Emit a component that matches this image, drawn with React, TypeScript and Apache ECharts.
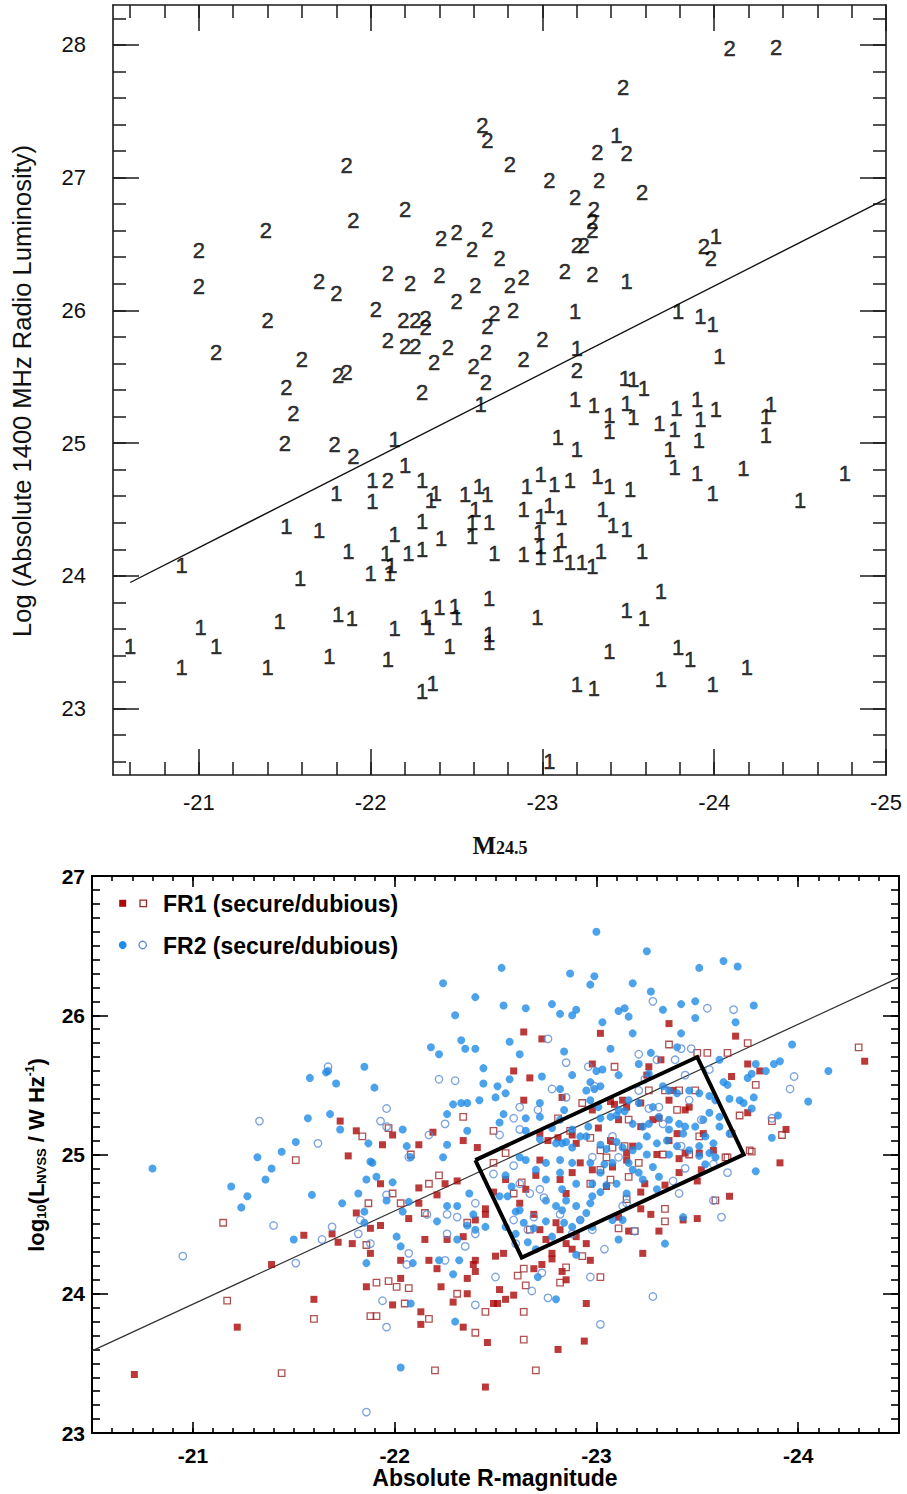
import { useEffect, useRef } from "react";
import * as echarts from "echarts";

const SANS = '"Liberation Sans", Arial, Helvetica, sans-serif';
const SERIF = '"Liberation Serif", "Times New Roman", serif';

// ---------- Upper panel: radio luminosity vs M24.5, plotted as "1" / "2" glyphs ----------
const topXMajor = [-21, -22, -23, -24, -25];
const topYMajor = [23, 24, 25, 26, 27, 28];

const fr1Glyphs: [number, number][] = [
  [-23.43, 27.32], [-23.49, 26.22], [-24.01, 26.56], [-23.19, 25.99], [-23.79, 25.99], [-23.92, 25.95],
  [-23.99, 25.89], [-24.03, 25.65], [-23.48, 25.49], [-23.53, 25.48], [-23.59, 25.41], [-23.2, 25.71],
  [-22.64, 25.29], [-22.14, 25.03], [-20.9, 24.08], [-22.2, 24.83], [-22.01, 24.72], [-22.01, 24.56],
  [-21.8, 24.62], [-22.3, 24.72], [-22.35, 24.57], [-22.38, 24.62], [-22.55, 24.61], [-22.63, 24.67],
  [-22.68, 24.61], [-21.51, 24.37], [-21.7, 24.34], [-22.14, 24.31], [-22.3, 24.41], [-22.41, 24.28],
  [-22.59, 24.4], [-22.59, 24.3], [-22.61, 24.5], [-22.69, 24.4], [-21.87, 24.18], [-22.09, 24.17],
  [-22.12, 24.08], [-22.22, 24.17], [-22.3, 24.2], [-22.0, 24.02], [-22.11, 24.02], [-21.59, 23.98],
  [-22.72, 24.17], [-21.01, 23.61], [-21.1, 23.47], [-20.6, 23.47], [-20.9, 23.31], [-21.4, 23.31],
  [-21.47, 23.66], [-21.81, 23.71], [-21.89, 23.68], [-21.76, 23.39], [-22.14, 23.6], [-22.1, 23.37],
  [-22.32, 23.69], [-22.34, 23.61], [-22.4, 23.76], [-22.49, 23.77], [-22.5, 23.69], [-22.46, 23.47],
  [-22.69, 23.83], [-22.69, 23.56], [-22.69, 23.5], [-22.3, 23.13], [-22.36, 23.19], [-23.19, 25.33],
  [-23.3, 25.28], [-23.39, 25.21], [-23.39, 25.09], [-23.49, 25.3], [-23.53, 25.19], [-23.68, 25.15],
  [-23.78, 25.26], [-23.77, 25.1], [-23.9, 25.33], [-23.92, 25.18], [-24.01, 25.25], [-24.33, 25.29],
  [-24.3, 25.2], [-24.3, 25.06], [-23.09, 25.04], [-23.2, 24.95], [-23.74, 24.95], [-23.91, 25.02],
  [-23.77, 24.82], [-23.9, 24.77], [-24.17, 24.81], [-24.76, 24.77], [-23.99, 24.62], [-24.5, 24.57],
  [-22.91, 24.67], [-22.99, 24.76], [-23.07, 24.69], [-23.16, 24.72], [-23.32, 24.75], [-23.39, 24.67],
  [-23.51, 24.65], [-22.89, 24.5], [-22.99, 24.45], [-23.04, 24.53], [-23.11, 24.44], [-23.35, 24.5],
  [-23.41, 24.38], [-23.49, 24.35], [-22.98, 24.33], [-22.99, 24.22], [-23.11, 24.27], [-22.89, 24.16],
  [-22.99, 24.14], [-23.09, 24.16], [-23.16, 24.1], [-23.23, 24.1], [-23.29, 24.07], [-23.34, 24.18],
  [-23.58, 24.18], [-23.69, 23.88], [-23.49, 23.74], [-23.59, 23.68], [-22.97, 23.69], [-23.39, 23.43],
  [-23.79, 23.46], [-23.86, 23.37], [-24.19, 23.31], [-23.2, 23.18], [-23.3, 23.15], [-23.69, 23.22],
  [-23.99, 23.18], [-23.04, 22.6],
];

const fr2Glyphs: [number, number][] = [
  [-22.65, 27.39], [-22.68, 27.28], [-21.86, 27.09], [-22.2, 26.76], [-21.9, 26.68], [-21.39, 26.6],
  [-22.41, 26.54], [-22.5, 26.59], [-22.68, 26.61], [-22.59, 26.46], [-22.75, 26.39], [-21.0, 26.45],
  [-21.0, 26.18], [-21.7, 26.22], [-21.8, 26.13], [-22.1, 26.28], [-22.23, 26.2], [-22.4, 26.26],
  [-22.61, 26.19], [-22.5, 26.07], [-22.03, 26.01], [-21.4, 25.92], [-22.19, 25.92], [-22.26, 25.92],
  [-22.32, 25.94], [-22.32, 25.87], [-22.72, 25.98], [-22.68, 25.88], [-21.1, 25.68], [-21.6, 25.63],
  [-21.81, 25.51], [-21.86, 25.53], [-21.51, 25.42], [-22.1, 25.77], [-22.2, 25.73], [-22.26, 25.73],
  [-22.37, 25.61], [-22.45, 25.72], [-22.6, 25.58], [-22.67, 25.68], [-22.67, 25.46], [-22.3, 25.38],
  [-21.55, 25.22], [-21.5, 25.0], [-21.79, 24.99], [-21.9, 24.9], [-22.1, 24.72],
  [-23.47, 27.68], [-24.09, 27.97], [-24.36, 27.98], [-23.32, 27.19], [-23.49, 27.18], [-22.81, 27.1],
  [-23.04, 26.98], [-23.33, 26.98], [-23.58, 26.89], [-23.19, 26.85], [-23.3, 26.76], [-23.29, 26.67],
  [-23.29, 26.6], [-23.2, 26.49], [-23.24, 26.49], [-23.94, 26.48], [-23.98, 26.39], [-22.81, 26.19],
  [-22.89, 26.25], [-23.13, 26.29], [-23.29, 26.27], [-22.83, 26.0], [-23.0, 25.78], [-23.2, 25.55],
  [-22.89, 25.63],
];

const topFitLine: [number, number][] = [[-20.6, 23.95], [-25.0, 26.84]];

// ---------- Lower panel: NVSS luminosity vs absolute R magnitude ----------
const botXMajor = [-21, -22, -23, -24];
const botYMajor = [23, 24, 25, 26, 27];

const fr1Secure: [number, number][] = [
  [-21.73, 25.24], [-21.81, 25.17], [-21.77, 24.99], [-21.81, 24.58], [-21.55, 24.42], [-21.69, 24.43],
  [-21.72, 24.37], [-21.79, 24.36], [-21.39, 24.21], [-21.22, 23.76], [-21.6, 23.96], [-21.86, 24.05],
  [-20.71, 23.42], [-21.88, 24.47], [-21.88, 24.29], [-22.64, 25.88], [-22.73, 25.83], [-23.02, 25.87],
  [-22.59, 25.6], [-22.67, 25.55], [-22.64, 25.39], [-22.83, 25.41], [-22.98, 25.65], [-23.07, 25.38],
  [-23.09, 25.36], [-23.13, 25.39], [-21.99, 25.14], [-21.94, 25.07], [-22.12, 25.07], [-22.19, 25.16],
  [-22.34, 25.1], [-22.41, 25.05], [-22.72, 25.15], [-22.76, 25.1], [-22.81, 25.12], [-22.88, 25.14],
  [-22.9, 25.08], [-22.98, 25.32], [-23.01, 25.19], [-23.11, 25.25], [-23.07, 25.1], [-21.93, 24.79],
  [-22.12, 24.76], [-22.21, 24.71], [-22.25, 24.79], [-22.31, 24.81], [-22.12, 24.65], [-22.07, 24.54],
  [-22.15, 24.39], [-22.26, 24.39], [-22.34, 24.41], [-22.4, 24.53], [-22.45, 24.61], [-22.45, 24.57],
  [-22.49, 24.73], [-22.55, 24.82], [-22.65, 24.75], [-22.72, 24.96], [-22.7, 24.85], [-22.69, 24.57],
  [-22.62, 24.65], [-22.5, 24.27], [-22.54, 24.29], [-22.4, 24.24], [-22.39, 24.21], [-22.4, 24.16],
  [-22.36, 24.11], [-22.23, 24.05], [-22.17, 24.24], [-22.21, 24.18], [-22.03, 24.24], [-22.03, 24.11],
  [-21.99, 23.92], [-22.13, 23.87], [-22.13, 23.78], [-22.34, 23.76], [-22.36, 24.0], [-22.29, 23.94],
  [-22.52, 24.03], [-22.59, 23.99], [-22.55, 23.96], [-22.49, 23.93], [-22.51, 23.93], [-22.69, 24.18],
  [-22.73, 24.21], [-22.78, 24.29], [-22.78, 24.25], [-22.83, 24.16], [-22.85, 24.1], [-22.95, 23.93],
  [-22.81, 23.6], [-22.94, 23.66], [-22.46, 23.65], [-22.45, 23.33], [-22.82, 24.82], [-22.85, 24.72],
  [-22.88, 24.87], [-22.92, 24.94], [-22.98, 24.89], [-22.82, 24.46], [-22.9, 24.41], [-22.95, 24.36],
  [-22.97, 24.24], [-23.05, 24.77], [-23.08, 24.91], [-22.72, 24.46], [-22.8, 24.51], [-22.85, 24.36],
  [-22.88, 24.32], [-21.93, 24.49], [-22.75, 24.39], [-23.36, 25.94], [-23.69, 25.85], [-23.75, 25.65],
  [-23.67, 25.56], [-23.81, 25.6], [-23.75, 25.3], [-23.94, 25.18], [-24.33, 25.67], [-23.32, 25.68],
  [-23.26, 25.63], [-23.25, 25.57], [-23.22, 25.37], [-23.15, 25.34], [-23.38, 25.46], [-23.36, 25.39],
  [-23.46, 25.34], [-23.31, 25.26], [-23.28, 25.25], [-23.44, 25.32], [-23.36, 25.1], [-23.4, 25.15],
  [-23.53, 25.15], [-23.44, 25.01], [-23.51, 25.01], [-23.58, 25.03], [-23.22, 25.2], [-23.18, 25.06],
  [-23.15, 25.01], [-23.91, 24.94], [-23.66, 24.7], [-23.5, 24.54], [-23.43, 24.53], [-23.31, 24.45],
  [-23.23, 24.29], [-23.27, 24.57], [-23.22, 24.61], [-23.16, 24.45], [-23.52, 24.89], [-23.5, 24.81],
  [-23.41, 24.87], [-23.34, 24.78], [-23.22, 24.73], [-23.15, 24.96], [-23.41, 24.97], [-23.3, 25.0],
  [-23.11, 24.55], [-23.24, 24.79],
];

const fr1Dubious: [number, number][] = [
  [-21.84, 25.13], [-21.51, 24.96], [-21.15, 24.51], [-21.17, 23.95], [-21.6, 23.82], [-21.44, 23.43],
  [-21.87, 24.65], [-21.86, 24.35], [-21.88, 23.84], [-23.09, 25.63], [-22.93, 25.37], [-22.34, 25.27],
  [-22.49, 25.17], [-21.97, 25.19], [-22.08, 25.0], [-22.55, 25.01], [-22.81, 25.26], [-22.87, 25.17],
  [-22.97, 25.12], [-23.02, 25.03], [-23.08, 25.05], [-23.14, 25.06], [-22.22, 24.85], [-22.17, 24.79],
  [-21.99, 24.72], [-22.03, 24.65], [-22.15, 24.58], [-22.49, 24.94], [-22.63, 24.8], [-22.59, 24.72],
  [-21.91, 24.08], [-21.97, 24.09], [-22.01, 24.05], [-22.07, 24.04], [-22.05, 23.93], [-21.91, 23.84],
  [-22.17, 23.82], [-22.31, 24.0], [-22.4, 23.72], [-22.45, 23.87], [-22.64, 23.87], [-22.64, 23.67],
  [-22.2, 23.45], [-22.7, 23.45], [-22.64, 24.18], [-22.61, 24.13], [-22.65, 24.06], [-22.82, 24.08],
  [-22.85, 24.19], [-22.93, 24.27], [-23.02, 24.12], [-23.07, 24.82], [-22.97, 24.79], [-23.02, 24.89],
  [-23.05, 24.98], [-22.36, 24.51], [-22.67, 24.46], [-23.36, 25.79], [-23.55, 25.73], [-23.65, 25.73],
  [-23.75, 25.8], [-23.79, 25.5], [-23.71, 25.28], [-23.87, 25.24], [-23.92, 25.14], [-24.3, 25.77],
  [-23.5, 25.73], [-23.41, 25.46], [-23.26, 25.46], [-23.34, 25.46], [-23.49, 25.46], [-23.4, 25.32],
  [-23.51, 25.13], [-23.16, 25.25], [-23.67, 25.15], [-23.76, 25.03], [-23.64, 24.98], [-23.46, 25.0],
  [-23.34, 24.61], [-23.34, 24.52], [-23.59, 24.67], [-23.19, 24.45], [-23.77, 25.02], [-23.33, 25.0],
  [-23.65, 24.98], [-23.16, 24.84], [-23.21, 24.94], [-23.15, 24.68], [-23.11, 24.47],
];

const fr2Secure: [number, number][] = [
  [-21.58, 25.55], [-21.66, 25.59], [-21.67, 25.6], [-21.71, 25.51], [-21.85, 25.63], [-21.57, 25.26],
  [-21.68, 25.29], [-21.73, 25.18], [-21.51, 25.09], [-21.44, 25.02], [-21.32, 24.98], [-21.87, 25.08],
  [-20.8, 24.9], [-21.19, 24.77], [-21.24, 24.62], [-21.27, 24.7], [-21.39, 24.9], [-21.36, 24.82],
  [-21.59, 24.71], [-21.74, 24.65], [-21.82, 24.72], [-21.85, 24.59], [-21.86, 24.82], [-21.5, 24.39],
  [-21.86, 24.22], [-21.88, 24.95], [-23.0, 26.6], [-22.53, 26.34], [-22.87, 26.3], [-22.99, 26.28],
  [-22.97, 26.22], [-22.24, 26.23], [-22.4, 26.13], [-22.54, 26.07], [-22.65, 26.05], [-22.78, 26.08],
  [-22.82, 26.01], [-22.88, 26.0], [-22.9, 26.04], [-22.3, 26.0], [-23.11, 26.03], [-23.14, 26.05],
  [-23.03, 25.95], [-22.33, 25.82], [-22.18, 25.77], [-22.22, 25.72], [-22.35, 25.76], [-22.4, 25.76],
  [-22.57, 25.81], [-22.62, 25.72], [-23.07, 25.76], [-22.84, 25.74], [-22.44, 25.62], [-22.73, 25.56],
  [-22.88, 25.57], [-22.97, 25.52], [-23.0, 25.6], [-23.03, 25.61], [-23.11, 25.57], [-21.9, 25.48],
  [-22.44, 25.51], [-22.51, 25.49], [-22.57, 25.54], [-22.82, 25.47], [-22.95, 25.46], [-22.99, 25.47],
  [-23.02, 25.49], [-22.5, 25.41], [-22.55, 25.44], [-22.42, 25.39], [-22.36, 25.37], [-22.33, 25.37],
  [-22.29, 25.36], [-22.26, 25.29], [-22.72, 25.37], [-22.72, 25.27], [-22.65, 25.26], [-22.84, 25.32],
  [-22.97, 25.39], [-23.01, 25.34], [-23.07, 25.27], [-23.1, 25.28], [-23.14, 25.31], [-22.54, 25.29],
  [-22.52, 25.23], [-22.82, 25.25], [-22.78, 25.19], [-22.04, 25.18], [-22.36, 25.17], [-22.26, 25.07],
  [-22.06, 25.06], [-22.72, 25.11], [-22.65, 25.17], [-22.88, 25.18], [-22.92, 25.13], [-22.96, 25.2],
  [-22.95, 25.13], [-23.02, 25.26], [-23.11, 25.32], [-22.8, 25.08], [-22.83, 25.08], [-22.85, 25.09],
  [-22.88, 25.05], [-23.02, 25.07], [-23.05, 25.04], [-23.1, 25.09], [-23.13, 25.05], [-21.89, 24.94],
  [-22.08, 24.98], [-22.24, 24.98], [-21.91, 24.84], [-21.99, 24.8], [-21.96, 24.67], [-22.07, 24.66],
  [-22.04, 24.59], [-22.21, 24.52], [-22.26, 24.63], [-22.31, 24.63], [-22.37, 24.72], [-22.39, 24.57],
  [-22.4, 24.46], [-22.45, 24.48], [-22.36, 24.49], [-22.01, 24.41], [-22.03, 24.34], [-22.31, 24.39],
  [-22.09, 24.22], [-22.22, 24.24], [-22.32, 24.24], [-22.29, 24.14], [-22.08, 23.93], [-22.3, 23.8],
  [-22.03, 23.47], [-22.55, 24.48], [-22.56, 24.7], [-22.6, 24.43], [-22.71, 24.12], [-22.8, 23.96],
  [-22.55, 24.85], [-22.58, 24.77], [-22.6, 24.59], [-22.64, 24.51], [-22.66, 24.37], [-22.75, 24.94],
  [-22.82, 24.87], [-22.83, 24.75], [-22.9, 24.79], [-22.88, 24.94], [-22.97, 24.94], [-23.04, 24.93],
  [-23.08, 24.94], [-22.98, 24.7], [-22.9, 24.63], [-22.97, 24.65], [-23.02, 24.73], [-23.05, 24.78],
  [-22.8, 24.63], [-22.75, 24.67], [-22.83, 24.6], [-22.84, 24.51], [-22.88, 24.48], [-22.92, 24.53],
  [-22.75, 24.52], [-22.69, 24.47], [-22.78, 24.41], [-22.7, 24.32], [-22.62, 24.6], [-22.65, 24.96],
  [-22.62, 24.98], [-22.52, 24.7], [-22.9, 24.28], [-22.98, 24.48], [-23.08, 24.53], [-23.13, 24.53],
  [-23.15, 24.72], [-23.11, 24.39], [-21.85, 24.51], [-23.1, 24.79], [-22.82, 24.96], [-22.7, 24.89],
  [-22.75, 24.82], [-22.85, 24.67], [-22.95, 24.58], [-22.98, 24.79], [-23.02, 24.87], [-23.25, 26.46],
  [-23.51, 26.34], [-23.63, 26.39], [-23.7, 26.35], [-23.18, 26.23], [-23.27, 26.17], [-23.33, 26.04],
  [-23.42, 26.08], [-23.49, 26.1], [-23.49, 25.98], [-23.69, 25.95], [-23.78, 26.07], [-23.18, 25.87],
  [-23.42, 25.87], [-23.97, 25.79], [-24.15, 25.6], [-24.05, 25.38], [-23.27, 25.73], [-23.4, 25.77],
  [-23.61, 25.68], [-23.21, 25.65], [-23.26, 25.58], [-23.79, 25.65], [-23.91, 25.67], [-23.88, 25.65],
  [-23.84, 25.6], [-23.77, 25.58], [-23.75, 25.55], [-23.65, 25.5], [-23.63, 25.52], [-23.66, 25.4],
  [-23.71, 25.39], [-23.73, 25.37], [-23.78, 25.41], [-23.77, 25.33], [-23.9, 25.28], [-23.87, 25.12],
  [-23.16, 25.99], [-23.33, 25.49], [-23.36, 25.46], [-23.4, 25.44], [-23.46, 25.46], [-23.51, 25.44],
  [-23.56, 25.42], [-23.59, 25.39], [-23.56, 25.3], [-23.61, 25.27], [-23.53, 25.25], [-23.49, 25.2],
  [-23.44, 25.2], [-23.41, 25.22], [-23.36, 25.25], [-23.31, 25.27], [-23.26, 25.22], [-23.23, 25.2],
  [-23.18, 25.22], [-23.28, 25.34], [-23.21, 25.37], [-23.16, 25.39], [-23.54, 25.13], [-23.58, 25.08],
  [-23.51, 25.06], [-23.46, 25.03], [-23.4, 25.06], [-23.35, 25.1], [-23.3, 25.08], [-23.25, 25.13],
  [-23.21, 25.06], [-23.18, 25.03], [-23.43, 25.15], [-23.36, 25.18], [-23.61, 25.2], [-23.66, 25.15],
  [-23.79, 24.88], [-23.43, 24.55], [-23.34, 24.36], [-23.28, 24.91], [-23.16, 24.94], [-23.21, 24.87],
  [-23.31, 24.84], [-23.25, 25.0], [-23.36, 25.0], [-23.51, 24.99], [-23.56, 25.01], [-23.59, 24.98],
  [-23.54, 24.93], [-23.3, 24.75], [-23.23, 24.82], [-23.18, 24.89],
];

const fr2Dubious: [number, number][] = [
  [-21.67, 25.63], [-21.33, 25.24], [-21.62, 25.08], [-21.4, 24.49], [-20.95, 24.27], [-21.51, 24.22],
  [-21.64, 24.39], [-21.69, 24.48], [-21.82, 24.43], [-21.86, 23.15], [-22.76, 25.83], [-22.85, 25.66],
  [-22.22, 25.54], [-22.3, 25.53], [-22.78, 25.47], [-22.85, 25.41], [-22.62, 25.34], [-22.71, 25.32],
  [-22.59, 25.26], [-21.96, 25.33], [-21.93, 25.24], [-21.96, 25.2], [-22.17, 25.14], [-22.25, 25.22],
  [-22.52, 25.14], [-22.62, 25.18], [-22.96, 25.63], [-22.99, 25.49], [-23.08, 25.13], [-21.94, 23.95],
  [-21.96, 23.76], [-22.07, 24.29], [-22.25, 24.24], [-22.35, 24.34], [-22.26, 24.43], [-22.16, 24.57],
  [-22.26, 24.57], [-22.31, 24.55], [-22.4, 24.65], [-22.4, 24.43], [-22.49, 24.86], [-22.59, 24.92],
  [-22.62, 24.79], [-22.67, 24.72], [-22.72, 24.75], [-22.74, 24.69], [-22.69, 24.55], [-22.59, 24.53],
  [-22.66, 24.46], [-22.6, 24.36], [-22.73, 24.15], [-22.5, 24.12], [-22.4, 23.92], [-22.68, 24.02],
  [-22.76, 23.97], [-22.97, 24.12], [-23.02, 23.78], [-23.04, 24.32], [-22.98, 24.46], [-22.88, 24.43],
  [-22.92, 24.53], [-23.13, 24.63], [-23.11, 24.98], [-22.98, 24.98], [-22.82, 24.57], [-21.96, 24.71],
  [-21.83, 24.53], [-21.88, 24.36], [-22.06, 24.21], [-22.07, 24.98], [-23.28, 26.1], [-23.55, 26.05],
  [-23.68, 26.04], [-23.21, 25.72], [-23.42, 25.76], [-23.47, 25.76], [-23.39, 25.68], [-23.44, 25.57],
  [-23.56, 25.61], [-23.96, 25.47], [-23.98, 25.56], [-23.87, 25.26], [-23.3, 25.68], [-23.24, 25.54],
  [-23.21, 25.46], [-23.26, 25.33], [-23.31, 25.34], [-23.46, 25.39], [-23.52, 25.25], [-23.42, 25.06],
  [-23.33, 25.22], [-23.65, 24.87], [-23.41, 24.72], [-23.62, 24.55], [-23.58, 24.67], [-23.28, 23.98],
  [-23.44, 24.9], [-23.38, 24.81], [-23.58, 24.93], [-23.15, 24.65], [-23.19, 24.45],
];

const botFitLine: [number, number][] = [[-20.5, 23.59], [-24.5, 26.27]];
const selectionBox: [number, number][] = [
  [-22.4, 24.96], [-23.5, 25.7], [-23.73, 25.0], [-22.63, 24.26], [-22.4, 24.96],
];

// tick positions between two values at a fixed step (minor tick marks only)
function steps(from: number, to: number, step: number): number[] {
  const out: number[] = [];
  const n = Math.round((to - from) / step);
  for (let i = 0; i <= n; i++) out.push(Number((from + i * step).toFixed(2)));
  return out;
}

type FrameSpec = {
  dim: "x" | "y";
  gridIndex: number;
  min: number;
  max: number;
  inverse?: boolean;
  major: number[];
  minor: number[];
  majorLen: number;
  minorLen: number;
  lineWidth: number;
  tickWidth: number;
  color: string;
  label: Record<string, unknown>;
};

// four axes per dimension: labelled major ticks, minor ticks, and the mirrored pair on the far side
function frameAxes(s: FrameSpec) {
  const positions = s.dim === "x" ? ["bottom", "top"] : ["left", "right"];
  const base = {
    type: "value",
    gridIndex: s.gridIndex,
    min: s.min,
    max: s.max,
    inverse: !!s.inverse,
    splitLine: { show: false },
    silent: true,
  };
  const out: any[] = [];
  positions.forEach((position, i) => {
    out.push({
      ...base,
      position,
      axisLine: { show: true, onZero: false, lineStyle: { color: s.color, width: s.lineWidth } },
      axisTick: {
        show: true,
        inside: true,
        length: s.majorLen,
        customValues: s.major,
        lineStyle: { color: s.color, width: s.tickWidth },
      },
      axisLabel: i === 0 ? { show: true, customValues: s.major, ...s.label } : { show: false },
    });
    out.push({
      ...base,
      position,
      axisLine: { show: false, onZero: false },
      axisTick: {
        show: true,
        inside: true,
        length: s.minorLen,
        customValues: s.minor,
        lineStyle: { color: s.color, width: s.tickWidth },
      },
      axisLabel: { show: false },
    });
  });
  return out;
}

const RED = "#aa0808";
const RED_OPEN = "#9e2626";
const BLUE = "#1f8be6";
const BLUE_OPEN = "#5a8bd4";

function glyphSeries(data: [number, number][], glyph: string) {
  return {
    type: "scatter",
    xAxisIndex: 0,
    yAxisIndex: 0,
    data,
    symbolSize: 1,
    itemStyle: { color: "rgba(0,0,0,0)" },
    silent: true,
    label: {
      show: true,
      position: "inside",
      formatter: glyph,
      fontFamily: SANS,
      fontSize: 22,
      color: "#000",
      textBorderColor: "#000",
      textBorderWidth: 0.5,
    },
    z: 3,
  };
}

export default function App() {
  const ref = useRef<HTMLDivElement>(null);

  useEffect(() => {
    if (!ref.current) return;
    const chart = echarts.init(ref.current, undefined, { renderer: "svg" });

    const topLabel = { fontFamily: SANS, fontSize: 22, color: "#111" };
    const botLabel = { fontFamily: SANS, fontSize: 21, fontWeight: "bold", color: "#000" };

    const xAxes = [
      ...frameAxes({
        dim: "x", gridIndex: 0, min: -25, max: -20.5, inverse: true,
        major: topXMajor, minor: steps(-24.8, -20.6, 0.2),
        majorLen: 26, minorLen: 13, lineWidth: 1.6, tickWidth: 1.5, color: "#1a1a1a",
        label: { ...topLabel, margin: 16 },
      }),
      ...frameAxes({
        dim: "x", gridIndex: 1, min: -24.5, max: -20.5, inverse: true,
        major: botXMajor, minor: steps(-24.4, -20.6, 0.1),
        majorLen: 11, minorLen: 5, lineWidth: 2, tickWidth: 1.6, color: "#000",
        label: { ...botLabel, margin: 12 },
      }),
    ];
    const yAxes = [
      ...frameAxes({
        dim: "y", gridIndex: 0, min: 22.5, max: 28.3,
        major: topYMajor, minor: steps(22.6, 28.2, 0.2),
        majorLen: 26, minorLen: 13, lineWidth: 1.6, tickWidth: 1.5, color: "#1a1a1a",
        label: { ...topLabel, margin: 27 },
      }),
      ...frameAxes({
        dim: "y", gridIndex: 1, min: 23, max: 27,
        major: botYMajor, minor: steps(23.1, 26.9, 0.1),
        majorLen: 16, minorLen: 8, lineWidth: 2, tickWidth: 1.6, color: "#000",
        label: { ...botLabel, margin: 7 },
      }),
    ];

    const option: any = {
      animation: false,
      backgroundColor: "#ffffff",
      grid: [
        { left: 113, top: 5, width: 773, height: 770, outerBoundsMode: "none" },
        { left: 92, top: 876, width: 807, height: 557, outerBoundsMode: "none" },
      ],
      xAxis: xAxes,
      yAxis: yAxes,
      series: [
        {
          type: "line",
          xAxisIndex: 0,
          yAxisIndex: 0,
          data: topFitLine,
          symbol: "none",
          silent: true,
          lineStyle: { color: "#111", width: 1.4 },
          z: 2,
        },
        glyphSeries(fr1Glyphs, "1"),
        glyphSeries(fr2Glyphs, "2"),
        {
          type: "line",
          xAxisIndex: 4,
          yAxisIndex: 4,
          data: botFitLine,
          symbol: "none",
          silent: true,
          lineStyle: { color: "#333", width: 1.2 },
          z: 2,
        },
        {
          type: "scatter",
          xAxisIndex: 4,
          yAxisIndex: 4,
          data: fr1Secure,
          symbol: "rect",
          symbolSize: 7,
          silent: true,
          itemStyle: { color: RED },
          z: 3,
        },
        {
          type: "scatter",
          xAxisIndex: 4,
          yAxisIndex: 4,
          data: fr1Dubious,
          symbol: "rect",
          symbolSize: 6.5,
          silent: true,
          itemStyle: { color: "rgba(255,255,255,0)", borderColor: RED_OPEN, borderWidth: 1.3 },
          z: 3,
        },
        {
          type: "scatter",
          xAxisIndex: 4,
          yAxisIndex: 4,
          data: fr2Secure,
          symbol: "circle",
          symbolSize: 8,
          silent: true,
          itemStyle: { color: BLUE },
          z: 4,
        },
        {
          type: "scatter",
          xAxisIndex: 4,
          yAxisIndex: 4,
          data: fr2Dubious,
          symbol: "circle",
          symbolSize: 7.5,
          silent: true,
          itemStyle: { color: "rgba(255,255,255,0)", borderColor: BLUE_OPEN, borderWidth: 1.3 },
          z: 4,
        },
        {
          type: "line",
          xAxisIndex: 4,
          yAxisIndex: 4,
          data: selectionBox,
          symbol: "none",
          silent: true,
          lineStyle: { color: "#000", width: 4, join: "miter" },
          z: 6,
        },
      ],
      graphic: [
        {
          type: "text",
          x: 22,
          y: 391,
          rotation: Math.PI / 2,
          silent: true,
          style: {
            text: "Log (Absolute 1400 MHz Radio Luminosity)",
            fontFamily: SANS,
            fontSize: 25.5,
            fill: "#111",
            align: "center",
            verticalAlign: "middle",
          },
        },
        {
          type: "text",
          x: 500,
          y: 845,
          silent: true,
          style: {
            text: "{m|M}{s|24.5}",
            align: "center",
            verticalAlign: "middle",
            rich: {
              m: { fontFamily: SERIF, fontWeight: "bold", fontSize: 25, fill: "#111" },
              s: { fontFamily: SERIF, fontWeight: "bold", fontSize: 18, fill: "#111", padding: [6, 0, 0, 0] },
            },
          },
        },
        {
          type: "text",
          x: 36,
          y: 1155,
          rotation: Math.PI / 2,
          silent: true,
          style: {
            text: "{a|log}{b|10}{a|(L}{b|NVSS}{a| / W Hz}{c|-1}{a|)}",
            align: "center",
            verticalAlign: "middle",
            rich: {
              a: { fontFamily: SANS, fontWeight: "bold", fontSize: 22, fill: "#000" },
              b: { fontFamily: SANS, fontWeight: "bold", fontSize: 13, fill: "#000", padding: [10, 0, 0, 0] },
              c: { fontFamily: SANS, fontWeight: "bold", fontSize: 12, fill: "#000", padding: [0, 0, 12, 0] },
            },
          },
        },
        {
          type: "text",
          x: 495,
          y: 1478,
          silent: true,
          style: {
            text: "Absolute R-magnitude",
            fontFamily: SANS,
            fontWeight: "bold",
            fontSize: 23,
            fill: "#000",
            align: "center",
            verticalAlign: "middle",
          },
        },
        // legend
        { type: "rect", silent: true, shape: { x: 119.2, y: 899.8, width: 7, height: 7 }, style: { fill: RED } },
        {
          type: "rect",
          silent: true,
          shape: { x: 140, y: 900.2, width: 6.5, height: 6.5 },
          style: { fill: "none", stroke: RED_OPEN, lineWidth: 1.3 },
        },
        {
          type: "text",
          x: 163,
          y: 904,
          silent: true,
          style: {
            text: "FR1 (secure/dubious)",
            fontFamily: SANS,
            fontWeight: "bold",
            fontSize: 23,
            fill: "#000",
            align: "left",
            verticalAlign: "middle",
          },
        },
        { type: "circle", silent: true, shape: { cx: 122.7, cy: 945, r: 3.9 }, style: { fill: BLUE } },
        {
          type: "circle",
          silent: true,
          shape: { cx: 142.7, cy: 945, r: 3.7 },
          style: { fill: "none", stroke: BLUE_OPEN, lineWidth: 1.3 },
        },
        {
          type: "text",
          x: 163,
          y: 946,
          silent: true,
          style: {
            text: "FR2 (secure/dubious)",
            fontFamily: SANS,
            fontWeight: "bold",
            fontSize: 23,
            fill: "#000",
            align: "left",
            verticalAlign: "middle",
          },
        },
      ],
    };

    chart.setOption(option);
    return () => chart.dispose();
  }, []);

  return (
    <div
      ref={ref}
      style={{ position: "absolute", left: 0, top: 0, width: 907, height: 1494, background: "#fff" }}
    />
  );
}
